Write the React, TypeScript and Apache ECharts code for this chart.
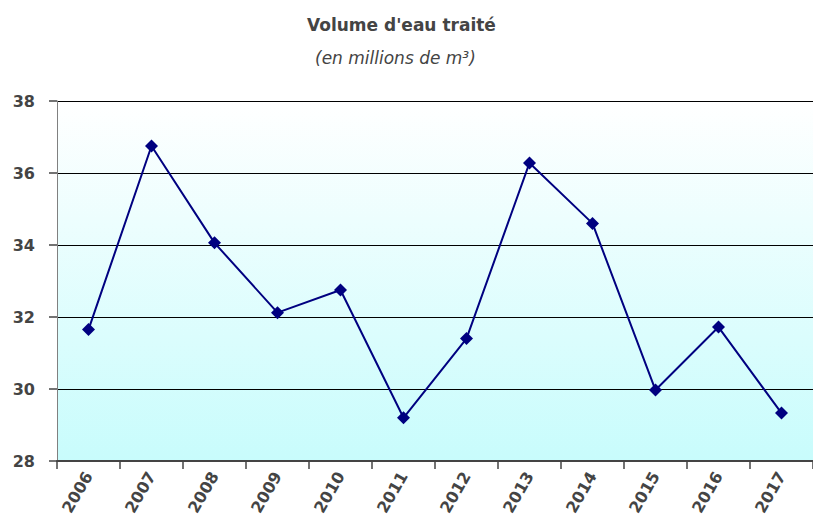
import React, { useEffect, useRef } from "react";
import * as echarts from "echarts";

const years = ["2006", "2007", "2008", "2009", "2010", "2011", "2012", "2013", "2014", "2015", "2016", "2017"];
const volumes = [31.65, 36.75, 34.06, 32.12, 32.75, 29.2, 31.4, 36.28, 34.6, 29.97, 31.72, 29.33];
const yTicks = [28, 30, 32, 34, 36, 38];

export default function App() {
  const ref = useRef<HTMLDivElement>(null);
  useEffect(() => {
    if (!ref.current) return;
    const chart = echarts.init(ref.current, null, { renderer: "svg" });
    const font = "'DejaVu Sans', sans-serif";
    chart.setOption({
      animation: false,
      backgroundColor: "#ffffff",
      title: [
        {
          text: "Volume d'eau traité",
          left: 302,
          top: 11,
          textStyle: { fontFamily: font, fontSize: 17, fontWeight: "bold", color: "#444444" },
        },
        {
          text: "(en millions de m³)",
          left: 310,
          top: 44,
          textStyle: { fontFamily: font, fontSize: 17, fontStyle: "italic", fontWeight: "normal", color: "#444444" },
        },
      ],
      grid: { left: 57, top: 101, width: 760, height: 360, containLabel: false,
        show: true, borderWidth: 0,
        backgroundColor: new echarts.graphic.LinearGradient(0, 0, 0, 1, [
          { offset: 0, color: "#ffffff" },
          { offset: 1, color: "#c8fcfc" },
        ]),
      },
      xAxis: {
        type: "category",
        data: years,
        boundaryGap: true,
        axisLine: { show: true, lineStyle: { color: "#444444", width: 2 } },
        axisTick: { show: true, length: 8, lineStyle: { color: "#444444", width: 1.5 } },
        axisLabel: { rotate: 60, margin: 12, fontFamily: font, fontSize: 16, fontWeight: "bold", color: "#444444" },
        splitLine: { show: false },
      },
      yAxis: {
        type: "value",
        min: yTicks[0],
        max: yTicks[yTicks.length - 1],
        interval: 2,
        axisLine: { show: true, lineStyle: { color: "#808080", width: 1 } },
        axisTick: { show: true, length: 8, lineStyle: { color: "#444444", width: 1.5 } },
        axisLabel: { margin: 22, fontFamily: font, fontSize: 16, fontWeight: "bold", color: "#444444" },
        splitLine: { show: true, lineStyle: { color: "#000000", width: 1 } },
      },
      series: [
        {
          type: "line",
          data: volumes,
          symbol: "diamond",
          symbolSize: 13,
          lineStyle: { color: "#000080", width: 2 },
          itemStyle: { color: "#000080" },
        },
      ],
    });
    return () => chart.dispose();
  }, []);
  return <div ref={ref} style={{ width: 813, height: 530, position: "absolute", left: 0, top: 0 }} />;
}
